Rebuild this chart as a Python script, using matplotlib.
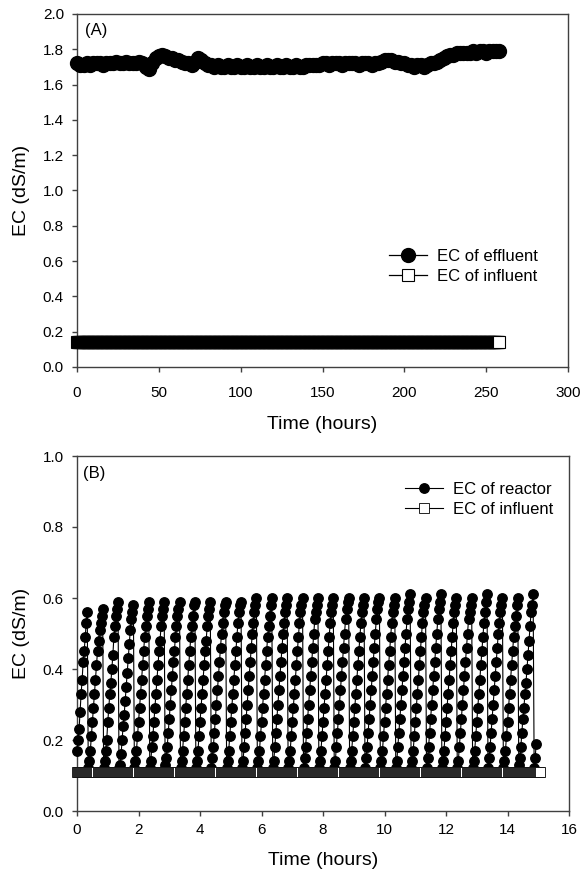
import numpy as np
import matplotlib
matplotlib.use("Agg")
import matplotlib.pyplot as plt

plt.rcParams['font.family'] = ['Liberation Sans', 'DejaVu Sans']

# ---------------- Panel A data ----------------
time_a = list(range(0, 260, 2))  # hours
effluent_a = [
    1.72, 1.71, 1.71, 1.72, 1.71, 1.72,
    1.72, 1.72, 1.71, 1.72, 1.72, 1.72, 1.73, 1.72, 1.72, 1.73, 1.72, 1.72, 1.72, 1.73, 1.72,
    1.70, 1.69, 1.72, 1.75,
    1.76, 1.77, 1.76, 1.75, 1.75, 1.74, 1.74, 1.73, 1.72, 1.72, 1.71,
    1.73, 1.75, 1.74,
    1.72, 1.71, 1.71, 1.70, 1.71, 1.70, 1.70, 1.71, 1.70, 1.70, 1.71, 1.70,
    1.70, 1.71, 1.70, 1.70, 1.71, 1.70, 1.70, 1.71, 1.70, 1.70, 1.71, 1.70,
    1.70, 1.71, 1.70, 1.70, 1.71, 1.70, 1.70, 1.71, 1.71, 1.71, 1.71, 1.71,
    1.72, 1.72, 1.71, 1.72, 1.72, 1.72, 1.71, 1.72, 1.72, 1.72, 1.72, 1.71,
    1.72, 1.72, 1.72, 1.71, 1.72, 1.72,
    1.73, 1.74, 1.74, 1.74, 1.73, 1.73, 1.72,
    1.72, 1.71, 1.71, 1.70, 1.71, 1.71, 1.70, 1.71, 1.72, 1.72, 1.73,
    1.74, 1.75, 1.76, 1.77, 1.77, 1.78, 1.78, 1.78, 1.78,
    1.78, 1.79, 1.78, 1.79, 1.79, 1.78, 1.79, 1.79, 1.79, 1.79,
]
time_a_inf = [i * 0.5 for i in range(517)]  # hours, half-hour sampling
influent_a_value = 0.14
influent_a = [influent_a_value] * len(time_a_inf)

# ---------------- Panel B data ----------------
reactor_cycles = [
    [0.17, 0.20, 0.23, 0.28, 0.33, 0.37, 0.42, 0.45, 0.49, 0.53, 0.56],
    [0.12, 0.14, 0.17, 0.21, 0.25, 0.29, 0.33, 0.37, 0.41, 0.45, 0.48, 0.51, 0.53, 0.55, 0.57],
    [0.12, 0.14, 0.17, 0.20, 0.25, 0.29, 0.33, 0.36, 0.40, 0.44, 0.49, 0.52, 0.55, 0.57, 0.59],
    [0.12, 0.13, 0.16, 0.20, 0.24, 0.27, 0.31, 0.35, 0.39, 0.43, 0.47, 0.51, 0.54, 0.56, 0.58],
    [0.12, 0.14, 0.17, 0.21, 0.25, 0.29, 0.33, 0.37, 0.41, 0.45, 0.49, 0.52, 0.55, 0.57, 0.59],
    [0.12, 0.14, 0.18, 0.21, 0.25, 0.29, 0.33, 0.37, 0.41, 0.45, 0.48, 0.52, 0.55, 0.57, 0.59],
    [0.13, 0.15, 0.18, 0.22, 0.26, 0.30, 0.34, 0.38, 0.42, 0.45, 0.49, 0.52, 0.55, 0.57, 0.59],
    [0.12, 0.14, 0.17, 0.21, 0.25, 0.29, 0.33, 0.37, 0.41, 0.45, 0.49, 0.52, 0.55, 0.58, 0.59],
    [0.12, 0.14, 0.17, 0.21, 0.25, 0.29, 0.33, 0.37, 0.41, 0.45, 0.48, 0.52, 0.55, 0.57, 0.59],
    [0.12, 0.15, 0.18, 0.22, 0.26, 0.30, 0.34, 0.38, 0.42, 0.46, 0.50, 0.53, 0.56, 0.58, 0.59],
    [0.12, 0.14, 0.17, 0.21, 0.25, 0.29, 0.33, 0.37, 0.41, 0.45, 0.49, 0.53, 0.56, 0.58, 0.59],
    [0.12, 0.14, 0.18, 0.22, 0.26, 0.30, 0.34, 0.38, 0.42, 0.46, 0.50, 0.53, 0.56, 0.58, 0.60],
    [0.12, 0.14, 0.17, 0.21, 0.25, 0.29, 0.33, 0.37, 0.41, 0.45, 0.49, 0.52, 0.55, 0.58, 0.60],
    [0.12, 0.14, 0.18, 0.22, 0.26, 0.30, 0.34, 0.38, 0.42, 0.46, 0.50, 0.53, 0.56, 0.58, 0.60],
    [0.12, 0.14, 0.17, 0.21, 0.25, 0.29, 0.33, 0.37, 0.41, 0.45, 0.49, 0.53, 0.56, 0.58, 0.60],
    [0.12, 0.15, 0.18, 0.22, 0.26, 0.30, 0.34, 0.38, 0.42, 0.46, 0.50, 0.54, 0.56, 0.58, 0.60],
    [0.12, 0.14, 0.17, 0.21, 0.25, 0.29, 0.33, 0.37, 0.41, 0.45, 0.49, 0.53, 0.56, 0.58, 0.60],
    [0.12, 0.14, 0.18, 0.22, 0.26, 0.30, 0.34, 0.38, 0.42, 0.46, 0.50, 0.54, 0.57, 0.59, 0.60],
    [0.12, 0.14, 0.17, 0.21, 0.25, 0.29, 0.33, 0.37, 0.41, 0.45, 0.49, 0.53, 0.56, 0.58, 0.60],
    [0.12, 0.15, 0.18, 0.22, 0.26, 0.30, 0.34, 0.38, 0.42, 0.46, 0.50, 0.54, 0.57, 0.59, 0.60],
    [0.12, 0.14, 0.17, 0.21, 0.25, 0.29, 0.33, 0.37, 0.41, 0.45, 0.49, 0.53, 0.56, 0.58, 0.60],
    [0.12, 0.14, 0.18, 0.22, 0.26, 0.30, 0.34, 0.38, 0.42, 0.46, 0.50, 0.54, 0.57, 0.59, 0.61],
    [0.12, 0.14, 0.17, 0.21, 0.25, 0.29, 0.33, 0.37, 0.41, 0.45, 0.49, 0.53, 0.56, 0.58, 0.60],
    [0.12, 0.15, 0.18, 0.22, 0.26, 0.30, 0.34, 0.38, 0.42, 0.46, 0.50, 0.54, 0.57, 0.59, 0.61],
    [0.12, 0.14, 0.17, 0.21, 0.25, 0.29, 0.33, 0.37, 0.41, 0.45, 0.49, 0.53, 0.56, 0.58, 0.60],
    [0.12, 0.14, 0.18, 0.22, 0.26, 0.30, 0.34, 0.38, 0.42, 0.46, 0.50, 0.54, 0.56, 0.58, 0.60],
    [0.12, 0.14, 0.17, 0.21, 0.25, 0.29, 0.33, 0.37, 0.41, 0.45, 0.49, 0.53, 0.56, 0.59, 0.61],
    [0.12, 0.15, 0.18, 0.22, 0.26, 0.30, 0.34, 0.38, 0.42, 0.46, 0.50, 0.53, 0.56, 0.58, 0.60],
    [0.12, 0.14, 0.17, 0.21, 0.25, 0.29, 0.33, 0.37, 0.41, 0.45, 0.49, 0.52, 0.55, 0.58, 0.60],
    [0.13, 0.15, 0.18, 0.22, 0.26, 0.29, 0.33, 0.36, 0.40, 0.44, 0.48, 0.52, 0.56, 0.58, 0.61],
    [0.12, 0.15, 0.19],
]
reactor_b = [v for cyc in reactor_cycles for v in cyc]
sample_step_h = 2.0 / 60.0  # 2-minute sampling
time_b = [i * sample_step_h for i in range(len(reactor_b))]
time_b_inf = [i * sample_step_h for i in range(453)]
influent_b_value = 0.11
influent_b = [influent_b_value] * len(time_b_inf)

# ---------------- Figure ----------------
W, H = 584, 871
fig = plt.figure(figsize=(W / 100, H / 100), dpi=100)

spine_col = '#404040'


def style(ax, xpad):
    for s in ax.spines.values():
        s.set_color(spine_col)
        s.set_linewidth(1.0)
    ax.tick_params(direction='out', length=3.4, width=1.0, color=spine_col,
                   labelsize=11)
    ax.tick_params(axis='y', pad=6)
    ax.tick_params(axis='x', pad=xpad)


def px_axes(l, t, r, b):
    return [l / W, 1 - b / H, (r - l) / W, (b - t) / H]


# Panel A
axA = fig.add_axes(px_axes(77, 14, 568, 367))
lA1, = axA.plot(time_a, effluent_a, '-', color='black', lw=0.9, marker='o',
                ms=10, mfc='black', mec='black', clip_on=False, zorder=3)
lA2, = axA.plot(time_a_inf, influent_a, '-', color='black', lw=0.9, marker='s',
                ms=8.3, mfc='white', mec='black', mew=0.8, clip_on=False, zorder=4)
axA.set_xlim(0, 300)
axA.set_ylim(0, 2.0)
axA.set_xticks(np.arange(0, 301, 50))
axA.set_yticks(np.arange(0, 2.01, 0.2))
axA.set_yticklabels([f"{v:.1f}" for v in np.arange(0, 2.01, 0.2)])
axA.set_xlabel('Time (hours)', fontsize=14, labelpad=12)
axA.set_ylabel('EC (dS/m)', fontsize=14, labelpad=9)
style(axA, 10)
axA.text(0.016, 0.975, '(A)', transform=axA.transAxes, fontsize=12,
         ha='left', va='top')
legA = axA.legend([lA1, lA2], ['EC of effluent', 'EC of influent'],
                  loc='center left', bbox_to_anchor=(0.635, 0.286),
                  frameon=False, fontsize=12, handlelength=2.3,
                  handletextpad=0.6, borderpad=0, borderaxespad=0,
                  labelspacing=0.3)

# Panel B
axB = fig.add_axes(px_axes(77, 456, 569, 811))
lB1, = axB.plot(time_b, reactor_b, '-', color='black', lw=0.8, marker='o',
                ms=6.8, mfc='black', mec='black', clip_on=False, zorder=3)
lB2, = axB.plot(time_b_inf, influent_b, '-', color='black', lw=0.8, marker='s',
                ms=7.5, mfc='white', mec='black', mew=0.6, clip_on=False, zorder=4)
axB.set_xlim(0, 16)
axB.set_ylim(0, 1.0)
axB.set_xticks(np.arange(0, 17, 2))
axB.set_yticks(np.arange(0, 1.01, 0.2))
axB.set_yticklabels([f"{v:.1f}" for v in np.arange(0, 1.01, 0.2)])
axB.set_xlabel('Time (hours)', fontsize=14, labelpad=11)
axB.set_ylabel('EC (dS/m)', fontsize=14, labelpad=9)
style(axB, 5)
axB.text(0.012, 0.972, '(B)', transform=axB.transAxes, fontsize=12,
         ha='left', va='top')
legB = axB.legend([lB1, lB2], ['EC of reactor', 'EC of influent'],
                  loc='center left', bbox_to_anchor=(0.667, 0.877),
                  frameon=False, fontsize=12, handlelength=2.3,
                  handletextpad=0.6, borderpad=0, borderaxespad=0,
                  labelspacing=0.3)

fig.savefig('out.png', dpi=100)
